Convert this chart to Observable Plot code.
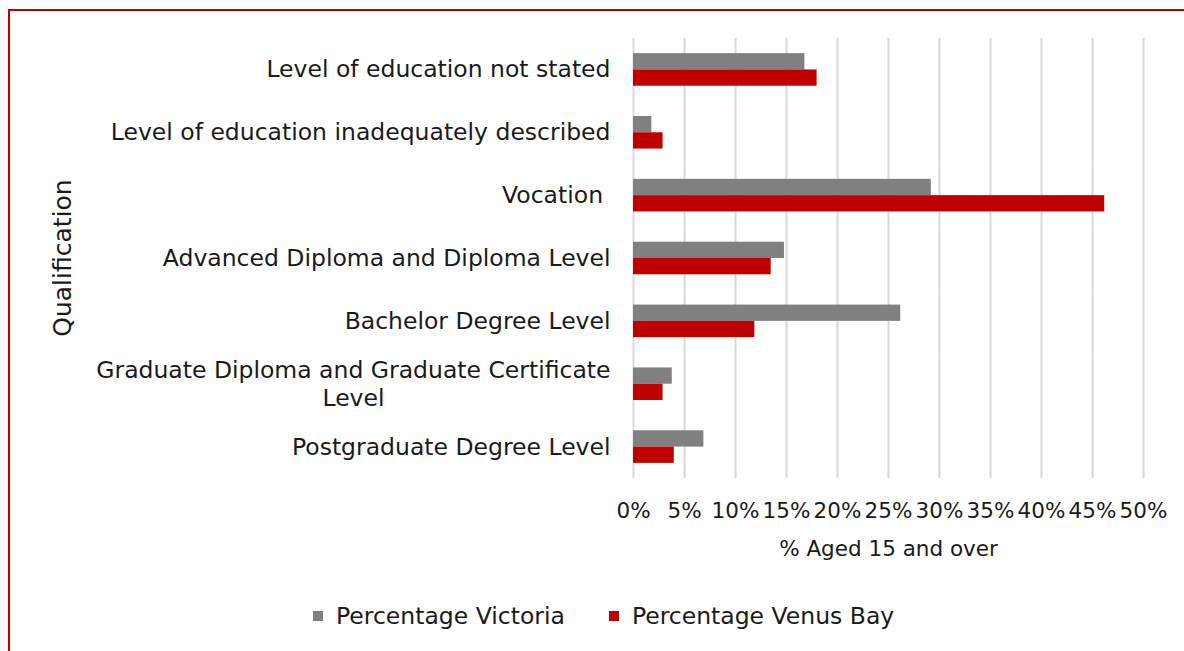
<!DOCTYPE html>
<html><head><meta charset="utf-8">
<script src="https://cdn.jsdelivr.net/npm/d3@7"></script>
<script src="https://cdn.jsdelivr.net/npm/@observablehq/plot@0.6"></script>
<style>
body{margin:0;background:#fff;font-family:"DejaVu Sans",sans-serif;color:#1a1a1a}
#wrap{position:relative;width:1184px;height:651px;overflow:hidden;background:#fff}
#border{position:absolute;left:8px;top:9px;right:-10px;bottom:-10px;border-top:2px solid #c00000;border-left:2px solid #c00000}
#chart{position:absolute;left:0;top:0}
#ytitle{position:absolute;left:62px;top:258px;transform:translate(-50%,-50%) rotate(-90deg);font-size:25px;white-space:nowrap}
#legend{position:absolute;top:602px;left:313px;display:flex;align-items:center;font-size:23.5px;gap:44px;white-space:nowrap}
.item{display:flex;align-items:center;gap:13px}
.sw{width:10px;height:10px;display:inline-block}
</style></head>
<body><div id="wrap"><div id="border"></div><div id="chart"></div><div id="ytitle"></div><div id="legend"></div></div>
<script>
const categories = [
  "Level of education not stated",
  "Level of education inadequately described",
  "Vocation ",
  "Advanced Diploma and Diploma Level",
  "Bachelor Degree Level",
  "Graduate Diploma and Graduate Certificate Level",
  "Postgraduate Degree Level"
];
const victoria = [16.8, 1.8, 29.2, 14.8, 26.2, 3.8, 6.9];
const venusBay = [18.0, 2.9, 46.2, 13.5, 11.9, 2.9, 4.0];
const seriesNames = ["Percentage Victoria", "Percentage Venus Bay"];
const seriesColors = ["#808080", "#c00000"];
const xTicks = [0, 5, 10, 15, 20, 25, 30, 35, 40, 45, 50];
const xTitle = "% Aged 15 and over";
const yTitle = "Qualification";
const wrapped = "Graduate Diploma and Graduate Certificate Level";
const wrappedLine1 = "Graduate Diploma and Graduate Certificate";
const wrappedLine2 = "Level";

const data = [];
categories.forEach((c, i) => {
  data.push({category: c, series: seriesNames[0], value: victoria[i]});
  data.push({category: c, series: seriesNames[1], value: venusBay[i]});
});

const font = "DejaVu Sans";
const fs = 23.5;
const tfs = 21.5;

const chart = Plot.plot({
  width: 1184,
  height: 580,
  marginLeft: 633,
  marginRight: 41,
  marginTop: 38,
  marginBottom: 102,
  style: {fontFamily: font, fontSize: fs + "px", color: "#1a1a1a", background: "transparent"},
  x: {domain: [0, 50]},
  y: {domain: seriesNames, paddingInner: 0, paddingOuter: 0.93, round: false, axis: null},
  fy: {domain: categories, paddingInner: 0, paddingOuter: 0, round: false, axis: null},
  color: {domain: seriesNames, range: seriesColors},
  marks: [
    Plot.gridX({ticks: xTicks, stroke: "#d9d9d9", strokeOpacity: 1, strokeWidth: 2}),
    Plot.barX(data, {x: "value", y: "series", fy: "category", fill: "series", inset: 0}),
    Plot.axisX({ticks: xTicks, tickFormat: d => d + "%", tickSize: 0, tickPadding: 24, fontSize: tfs,
      label: xTitle, labelAnchor: "center", labelArrow: "none", labelOffset: 77}),
    Plot.axisFy({anchor: "left", ticks: categories.filter(c => c !== wrapped), tickSize: 0, tickPadding: 23, fontSize: fs, label: null}),
    Plot.axisFy({anchor: "left", ticks: [wrapped], tickFormat: () => wrappedLine1, tickSize: 0, tickPadding: 23, dy: -14, fontSize: fs, label: null}),
    Plot.text([wrapped], {fy: d => d, text: () => wrappedLine2, frameAnchor: "left", dx: -280, dy: 14, textAnchor: "middle", fontSize: fs})
  ]
});
document.getElementById("chart").appendChild(chart);
document.getElementById("ytitle").textContent = yTitle;
const leg = document.getElementById("legend");
seriesNames.forEach((s, i) => {
  const it = document.createElement("div");
  it.className = "item";
  it.innerHTML = `<span class="sw" style="background:${seriesColors[i]}"></span><span>${s}</span>`;
  leg.appendChild(it);
});
</script></body></html>
